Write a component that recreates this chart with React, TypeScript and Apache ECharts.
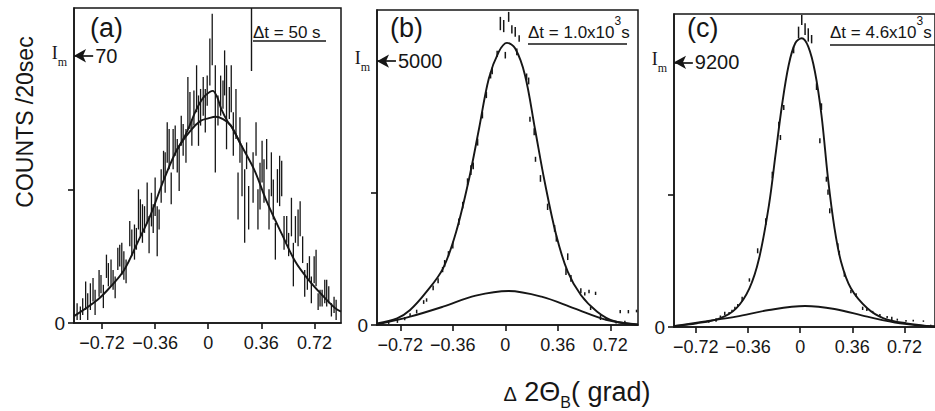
import React, { useEffect, useRef } from 'react';
import * as echarts from 'echarts';

const FONT = '"Liberation Sans", Arial, sans-serif';
const SERIF = '"Liberation Serif", "DejaVu Serif", serif';
const INK = '#161616';

// shared tick positions of the Δ2θ axes
const xTicks = [-0.72, -0.36, 0, 0.36, 0.72];

// panel (a): error bars [x, low, high], counts/20 s
const aBars = [
  [-0.889, 0.8, 5.2], [-0.867, 0.8, 4.3], [-0.851, 2.1, 6.5], [-0.831, 3.4, 10.9], [-0.817, 0.8, 7.8],
  [-0.799, 3.4, 10.4], [-0.781, 5.6, 11.8], [-0.767, 2.1, 8.7], [-0.74, 6.9, 13.9], [-0.727, 7.8, 12.6],
  [-0.711, 3.9, 10.0], [-0.69, 11.8, 17.9], [-0.677, 9.6, 15.7], [-0.659, 9.6, 16.6], [-0.645, 8.7, 13.9],
  [-0.631, 6.5, 12.2], [-0.613, 13.9, 19.7], [-0.6, 14.8, 20.5], [-0.586, 12.6, 21.0], [-0.572, 11.3, 18.8],
  [-0.557, 10.4, 16.6], [-0.532, 20.1, 26.7], [-0.518, 17.5, 24.5], [-0.5, 16.6, 25.8], [-0.487, 19.2, 24.9],
  [-0.473, 24.5, 35.0], [-0.46, 22.7, 32.4], [-0.446, 21.0, 31.1], [-0.432, 23.6, 30.6], [-0.414, 26.2, 36.8],
  [-0.401, 18.3, 28.0], [-0.385, 25.3, 34.1], [-0.373, 23.6, 31.1], [-0.36, 28.0, 38.1], [-0.346, 17.5, 30.6],
  [-0.333, 24.5, 29.7], [-0.319, 31.5, 40.3], [-0.303, 37.6, 45.1], [-0.292, 34.1, 44.7], [-0.278, 42.0, 52.6],
  [-0.265, 40.3, 50.8], [-0.251, 31.1, 39.4], [-0.238, 40.3, 50.8], [-0.224, 43.8, 51.7], [-0.21, 39.4, 48.2],
  [-0.197, 34.6, 46.4], [-0.183, 46.4, 54.3], [-0.17, 43.8, 52.1], [-0.151, 42.0, 50.8], [-0.138, 50.8, 64.4],
  [-0.124, 50.8, 60.5], [-0.111, 46.4, 53.4], [-0.097, 51.7, 60.9], [-0.079, 55.2, 67.5], [-0.066, 46.4, 59.6],
  [-0.052, 51.7, 61.3], [-0.034, 54.3, 64.4], [-0.02, 49.9, 61.3], [-0.007, 56.9, 64.8], [0.011, 62.2, 74.5],
  [0.027, 67.5, 81.0], [0.048, 39.4, 67.5], [0.066, 51.7, 59.6], [0.084, 54.3, 64.8], [0.1, 56.1, 63.5],
  [0.111, 59.6, 71.4], [0.124, 45.5, 67.5], [0.143, 53.4, 61.8], [0.156, 55.2, 67.5], [0.17, 43.8, 55.2],
  [0.188, 48.2, 61.3], [0.202, 27.1, 39.4], [0.215, 42.0, 53.9], [0.229, 33.2, 46.4], [0.247, 21.0, 40.3],
  [0.26, 40.3, 47.3], [0.274, 24.5, 35.9], [0.304, 31.5, 44.7], [0.324, 43.8, 52.6], [0.337, 24.5, 35.0],
  [0.351, 29.7, 42.0], [0.365, 36.8, 47.7], [0.378, 31.5, 42.9], [0.396, 40.3, 48.2], [0.412, 24.5, 35.0],
  [0.428, 33.2, 44.7], [0.441, 27.1, 37.6], [0.455, 16.6, 26.2], [0.469, 31.5, 40.3], [0.484, 30.6, 43.8],
  [0.498, 33.2, 42.5], [0.514, 19.2, 28.0], [0.532, 21.0, 28.0], [0.545, 17.5, 23.6], [0.564, 22.7, 32.8],
  [0.577, 9.6, 21.0], [0.591, 21.0, 28.0], [0.609, 20.1, 29.7], [0.623, 22.7, 31.9], [0.64, 15.7, 22.7],
  [0.654, 6.9, 13.9], [0.672, 8.7, 15.7], [0.686, 11.3, 17.5], [0.699, 5.2, 12.2], [0.718, 10.4, 17.5],
  [0.731, 9.6, 19.2], [0.745, 3.4, 7.8], [0.758, 4.3, 8.7], [0.772, 4.3, 8.7], [0.79, 5.2, 11.3],
  [0.803, 4.3, 11.3], [0.817, 5.2, 9.6], [0.835, 1.7, 5.2], [0.853, 2.6, 6.9], [0.867, 0.8, 6.1],
];

// panel (a): broad fitted profile and its sharper central part
const aBroad = [
  [-0.91, 1.8], [-0.75, 6.1], [-0.66, 9.6], [-0.57, 13.9], [-0.48, 21.0], [-0.39, 28.4], [-0.3, 37.6],
  [-0.21, 45.5], [-0.12, 50.4], [-0.05, 53.0], [0.0, 53.6], [0.05, 54.0], [0.1, 53.4], [0.15, 51.9],
  [0.22, 46.8], [0.31, 40.3], [0.4, 31.5], [0.5, 23.2], [0.59, 16.1], [0.68, 11.3], [0.77, 7.4],
  [0.86, 3.9], [0.9, 3.0],
];
const aPeak = [
  [-0.21, 45.5], [-0.15, 49.6], [-0.084, 55.6], [-0.048, 58.2], [-0.02, 59.6], [0.03, 60.8],
  [0.06, 59.2], [0.088, 56.1], [0.134, 52.6], [0.16, 51.3], [0.22, 46.8],
];

// panel (b): measured points [x, low, high]
const bPoints = [
  [-0.8, 20, 70], [-0.74, 40, 110], [-0.69, 90, 150], [-0.653, 158, 221], [-0.608, 220, 290],
  [-0.56, 400, 470], [-0.54, 441, 506], [-0.495, 660, 750], [-0.461, 790, 884], [-0.43, 1000, 1100],
  [-0.416, 1104, 1231], [-0.39, 1300, 1400], [-0.36, 1452, 1578], [-0.319, 1894, 2020], [-0.292, 2209, 2335],
  [-0.259, 2650, 2780], [-0.236, 2841, 3030], [-0.22, 2950, 3080], [-0.19, 3400, 3530], [-0.157, 3915, 4040],
  [-0.13, 4300, 4420], [-0.101, 4672, 4798], [-0.09, 4750, 4880], [-0.056, 5080, 5200], [-0.034, 5587, 5840],
  [-0.011, 5550, 5780], [0.0, 5051, 5176], [0.023, 5745, 5934], [0.045, 5524, 5682], [0.068, 5461, 5650],
  [0.079, 5114, 5240], [0.095, 5366, 5492], [0.146, 4640, 4767], [0.16, 4560, 4690], [0.169, 3850, 3945],
  [0.198, 3598, 3731], [0.207, 3093, 3188], [0.241, 2714, 2841], [0.29, 2180, 2300], [0.338, 1767, 1894],
  [0.35, 1580, 1700], [0.416, 947, 1074], [0.428, 1231, 1358], [0.45, 820, 947], [0.518, 600, 695],
  [0.545, 560, 620], [0.574, 600, 670], [0.585, 284, 347], [0.619, 568, 631], [0.653, 95, 189],
  [0.69, 90, 150], [0.76, 30, 60], [0.788, 221, 284], [0.82, 40, 80], [0.844, 221, 284], [0.9, 240, 290],
];
const bMain = [
  [-0.88, 32], [-0.742, 127], [-0.653, 284], [-0.54, 631], [-0.427, 1074], [-0.337, 1767], [-0.248, 2778],
  [-0.18, 3725], [-0.113, 4672], [-0.045, 5176], [0.011, 5347], [0.068, 5240], [0.135, 4735], [0.203, 3725],
  [0.27, 2714], [0.349, 1705], [0.428, 1010], [0.518, 568], [0.63, 252], [0.743, 76], [0.91, 10],
];
const bBase = [
  [-0.88, 10], [-0.653, 158], [-0.427, 347], [-0.203, 556], [0.023, 644], [0.248, 537], [0.473, 316],
  [0.698, 95], [0.91, 5],
];

// panel (c): measured points [x, low, high]
const cPoints = [
  [-0.63, 150, 220], [-0.58, 180, 300], [-0.55, 330, 400], [-0.52, 417, 532], [-0.49, 450, 520],
  [-0.47, 520, 600], [-0.45, 620, 700], [-0.43, 700, 800], [-0.4, 880, 1053], [-0.35, 1575, 1693],
  [-0.293, 2562, 2736], [-0.237, 3546, 3778], [-0.192, 5169, 5398], [-0.147, 6963, 7137], [-0.136, 6500, 6674],
  [-0.113, 7543, 7717], [-0.045, 9514, 9744], [-0.011, 10035, 10440], [0.011, 10497, 10845], [0.034, 10150, 10557],
  [0.056, 9920, 10383], [0.079, 9860, 10150], [0.113, 8238, 8471], [0.136, 6385, 6559], [0.147, 7543, 7776],
  [0.181, 5051, 5225], [0.192, 4600, 4780], [0.204, 3952, 4126], [0.26, 2736, 2910], [0.27, 2500, 2650],
  [0.305, 1748, 1922], [0.35, 1170, 1286], [0.386, 1053, 1170], [0.431, 591, 706], [0.46, 560, 650],
  [0.5, 480, 560], [0.55, 380, 450], [0.6, 300, 380], [0.632, 243, 359], [0.67, 220, 290],
  [0.73, 180, 240], [0.78, 190, 250], [0.85, 180, 230], [0.88, 20, 60], [0.9, 40, 80],
];
const cMain = [
  [-0.87, 40], [-0.712, 128], [-0.554, 302], [-0.441, 650], [-0.35, 1345], [-0.283, 2388], [-0.215, 4241],
  [-0.17, 5979], [-0.125, 7717], [-0.079, 9107], [-0.034, 9862], [0.011, 10035], [0.056, 9744], [0.102, 8874],
  [0.147, 7369], [0.192, 5169], [0.237, 3431], [0.282, 2270], [0.35, 1345], [0.463, 650], [0.576, 302],
  [0.734, 128], [0.93, 15],
];
const cBase = [
  [-0.87, 25], [-0.667, 185], [-0.441, 359], [-0.215, 591], [0.034, 730], [0.237, 626], [0.463, 359],
  [0.689, 128], [0.93, 15],
];

// axis ranges and the marked maxima I_m
const xMins = [-0.91, -0.88, -0.87];
const xMaxs = [0.9, 0.91, 0.93];
const yMaxs = [82.5, 5970, 10880];
const yMidTicks = [35, 2500, 4600];
const imValues = [70, 5000, 9200];
const imLabels = ['70', '5000', '9200'];
const panelLetters = ['(a)', '(b)', '(c)'];

const gridBoxes = [
  { left: 74, top: 8, width: 267, height: 315 },
  { left: 377, top: 10, width: 261, height: 315 },
  { left: 674, top: 14, width: 265, height: 313 },
];

const fmtX = (v: number) => {
  if (Math.abs(v) < 1e-9) return '0';
  return (v < 0 ? '\u2212' : '') + Math.abs(v).toFixed(2);
};

const lineStyle = { color: INK, width: 1.9 };

function barRenderer(width: number) {
  return (params: any, api: any) => {
    const x = api.value(0);
    const p1 = api.coord([x, api.value(1)]);
    const p2 = api.coord([x, api.value(2)]);
    return {
      type: 'line',
      shape: { x1: p1[0], y1: p1[1], x2: p2[0], y2: p2[1] },
      style: { stroke: INK, lineWidth: width },
    };
  };
}

function imMarks(i: number) {
  const span = 0.13;
  return {
    markLine: {
      silent: true,
      animation: false,
      symbol: ['arrow', 'none'],
      symbolSize: [10, 12],
      lineStyle: { color: INK, width: 1.7, type: 'solid' },
      data: [
        [
          {
            coord: [xMins[i], imValues[i]],
            label: {
              show: true,
              position: 'end',
              distance: 2,
              formatter: imLabels[i],
              fontSize: 20,
              fontFamily: FONT,
              color: INK,
            },
          },
          { coord: [xMins[i] + span, imValues[i]] },
        ],
      ],
    },
  };
}

export default function App() {
  const ref = useRef<HTMLDivElement>(null);

  useEffect(() => {
    if (!ref.current) return;
    const chart = echarts.init(ref.current, undefined, { renderer: 'svg' });

    const grids = gridBoxes.map((g) => ({
      ...g,
      show: true,
      borderColor: INK,
      borderWidth: 1.5,
      backgroundColor: 'transparent',
    }));

    const xAxes = [0, 1, 2].map((i) => ({
      gridIndex: i,
      type: 'value',
      min: xMins[i],
      max: xMaxs[i],
      axisLine: { show: true, onZero: false, lineStyle: { color: INK, width: 1.6 } },
      axisTick: { show: true, inside: false, length: 6, customValues: xTicks, lineStyle: { color: INK, width: 1.6 } },
      axisLabel: {
        show: true,
        customValues: xTicks,
        formatter: fmtX,
        fontSize: 18,
        fontFamily: FONT,
        color: INK,
        margin: 11,
      },
      splitLine: { show: false },
    }));

    const yAxes = [0, 1, 2].map((i) => ({
      gridIndex: i,
      type: 'value',
      min: 0,
      max: yMaxs[i],
      axisLine: { show: true, onZero: false, lineStyle: { color: INK, width: 1.6 } },
      axisTick: { show: true, inside: false, length: 6, customValues: [0, yMidTicks[i]], lineStyle: { color: INK, width: 1.6 } },
      axisLabel: {
        show: true,
        customValues: [0],
        formatter: () => '0',
        fontSize: 19,
        fontFamily: FONT,
        color: INK,
        margin: 9,
      },
      splitLine: { show: false },
    }));

    const pointSets = [aBars, bPoints, cPoints];
    const barWidths = [1.3, 1.5, 1.5];
    const curveSets = [
      [aBroad, aPeak],
      [bMain, bBase],
      [cMain, cBase],
    ];

    const series: any[] = [];
    [0, 1, 2].forEach((i) => {
      series.push({
        type: 'custom',
        xAxisIndex: i,
        yAxisIndex: i,
        silent: true,
        renderItem: barRenderer(barWidths[i]),
        encode: { x: 0, y: [1, 2] },
        data: pointSets[i],
        z: 2,
      });
      curveSets[i].forEach((curve, k) => {
        const s: any = {
          type: 'line',
          xAxisIndex: i,
          yAxisIndex: i,
          data: curve,
          smooth: 0.35,
          symbol: 'none',
          showSymbol: false,
          silent: true,
          lineStyle,
          z: 3,
        };
        if (k === 0) Object.assign(s, imMarks(i));
        if (i === 0 && k === 1) {
          s.markLine = {
            silent: true,
            symbol: ['none', 'none'],
            lineStyle: { color: INK, width: 1.4, type: 'solid' },
            label: { show: false },
            data: [[{ coord: [0.29, 66] }, { coord: [0.29, yMaxs[0]] }]],
          };
        }
        series.push(s);
      });
    });

    const supRich = {
      n: { fontSize: 17, fontFamily: FONT, fill: INK, lineHeight: 26, verticalAlign: 'bottom' },
      p: { fontSize: 12, fontFamily: FONT, fill: INK, lineHeight: 26, verticalAlign: 'top' },
    };

    const dtTexts = ['{n|\u0394t = 50 s}', '{n|\u0394t = 1.0x10}{p|3}{n|s}', '{n|\u0394t = 4.6x10}{p|3}{n|s}'];
    const dtX = [253, 528, 830];
    const dtLineEnd = [326, 627, 935];
    const dtLineY = [41, 44, 45];

    const graphic: any[] = [
      {
        type: 'text',
        x: 25,
        y: 122,
        rotation: Math.PI / 2,
        style: {
          text: 'COUNTS /20sec',
          fontSize: 23,
          fontFamily: FONT,
          fill: INK,
          align: 'center',
          verticalAlign: 'middle',
        },
      },
      {
        type: 'text',
        x: 577,
        y: 394,
        style: {
          text: '{d|\u0394}{n| 2\u0398}{s|B}{n|( grad)}',
          align: 'center',
          verticalAlign: 'middle',
          rich: {
            d: { fontSize: 20, fontFamily: FONT, fill: INK, lineHeight: 32, verticalAlign: 'middle' },
            n: { fontSize: 27, fontFamily: FONT, fill: INK, lineHeight: 32, verticalAlign: 'top' },
            s: { fontSize: 16, fontFamily: FONT, fill: INK, lineHeight: 32, verticalAlign: 'bottom' },
          },
        },
      },
    ];
    [0, 1, 2].forEach((i) => {
      graphic.push({
        type: 'text',
        x: gridBoxes[i].left + [16, 13, 13][i],
        y: 14,
        style: { text: panelLetters[i], fontSize: 27, fontFamily: FONT, fill: INK, align: 'left', verticalAlign: 'top' },
      });
      graphic.push({
        type: 'text',
        x: dtX[i],
        y: 15,
        style: { text: dtTexts[i], rich: supRich, align: 'left', verticalAlign: 'top' },
      });
      graphic.push({
        type: 'line',
        shape: { x1: dtX[i], y1: dtLineY[i], x2: dtLineEnd[i], y2: dtLineY[i] },
        style: { stroke: INK, lineWidth: 1.5 },
      });
    });

    chart.setOption({
      animation: false,
      backgroundColor: '#ffffff',
      grid: grids,
      xAxis: xAxes,
      yAxis: yAxes,
      series,
      graphic,
    });

    // "I_m" markers placed at the I_m value through each panel's own scales
    const imGraphics = [0, 1, 2].map((i) => {
      const p = chart.convertToPixel({ gridIndex: i }, [xMins[i], imValues[i]]) as number[];
      return {
        type: 'text',
        x: p[0] - 7,
        y: p[1],
        style: {
          text: '{i|I}{m|m}',
          align: 'right',
          verticalAlign: 'middle',
          rich: {
            i: { fontFamily: SERIF, fontSize: 18, fill: INK, lineHeight: 24, verticalAlign: 'top' },
            m: { fontFamily: SERIF, fontSize: 12, fill: INK, lineHeight: 24, verticalAlign: 'bottom' },
          },
        },
      };
    });
    chart.setOption({ graphic: [...graphic, ...imGraphics] });

    return () => {
      chart.dispose();
    };
  }, []);

  return (
    <div
      ref={ref}
      style={{ position: 'fixed', left: 0, top: 0, width: 935, height: 411, background: '#fff' }}
    />
  );
}
